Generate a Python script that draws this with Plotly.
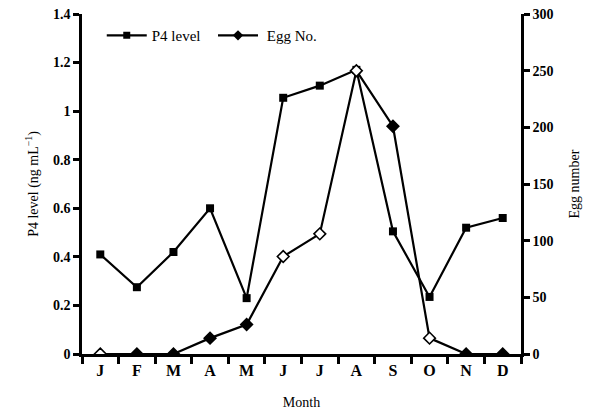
import plotly.graph_objects as go

months = ["J", "F", "M", "A", "M", "J", "J", "A", "S", "O", "N", "D"]
p4_level = [0.41, 0.275, 0.42, 0.60, 0.23, 1.055, 1.105, 1.17, 0.505, 0.235, 0.52, 0.56]
egg_no = [0, 0, 0, 14, 26, 86, 106, 250, 201, 14, 0, 0]
egg_hollow = [True, False, False, False, False, True, True, True, False, True, False, False]

x_idx = list(range(len(months)))
font_fam = "Liberation Serif"
NB = "\u00a0"

fig = go.Figure()
fig.add_trace(go.Scatter(
    x=x_idx, y=p4_level, name="P4 level", mode="lines+markers", showlegend=False,
    line=dict(color="black", width=2.2),
    marker=dict(symbol="square", size=8, color="black"),
    yaxis="y"))
fig.add_trace(go.Scatter(
    x=x_idx, y=egg_no, name="Egg No.", mode="lines+markers", showlegend=False,
    line=dict(color="black", width=2.2),
    marker=dict(symbol="diamond", size=9,
                color=["white" if h else "black" for h in egg_hollow],
                line=dict(color="black", width=1.6)),
    yaxis="y2"))
# legend entries
fig.add_trace(go.Scatter(x=[None], y=[None], name="P4 level" + NB * 2, mode="lines+markers",
                         line=dict(color="black", width=2.2),
                         marker=dict(symbol="square", size=7, color="black")))
fig.add_trace(go.Scatter(x=[None], y=[None], name=NB + "Egg No.", mode="lines+markers",
                         line=dict(color="black", width=2.2),
                         marker=dict(symbol="diamond", size=8, color="black")))

axis_common = dict(showline=True, linecolor="black", linewidth=2.5,
                   ticks="outside", ticklen=6, tickwidth=2.5, tickcolor="black",
                   showgrid=False, zeroline=False, automargin=False,
                   ticklabeloverflow="allow")

fig.update_layout(
    width=595, height=415,
    margin=dict(l=74, r=82, t=6, b=69),
    paper_bgcolor="white", plot_bgcolor="white",
    font=dict(family=font_fam, color="black", size=13),
    showlegend=True,
    legend=dict(orientation="h", x=0.045, y=0.985, xanchor="left", yanchor="top",
                font=dict(family=font_fam, size=15, color="black"),
                bgcolor="rgba(0,0,0,0)", itemwidth=40),
    xaxis=dict(axis_common, range=[-0.5, 11.5], tickmode="array",
               tickvals=x_idx, ticktext=["<b>%s</b>" % m for m in months],
               tickfont=dict(size=16, family=font_fam),
               title=dict(text="Month", font=dict(size=14, family=font_fam), standoff=20)),
    yaxis=dict(axis_common, range=[0, 1.4], dtick=0.2,
               tickfont=dict(size=14, family=font_fam),
               tickprefix="<b>", ticksuffix="</b>",
               title=dict(text="P4 level (ng mL<sup>−1</sup>)", font=dict(size=14, family=font_fam), standoff=12)),
    yaxis2=dict(axis_common, range=[0, 300], dtick=50, overlaying="y", side="right",
                tickfont=dict(size=14, family=font_fam),
                tickprefix="<b>", ticksuffix="</b>",
                title=dict(text="Egg number", font=dict(size=14, family=font_fam), standoff=17)),
)

# x-axis ticks at category boundaries via minor ticks
fig.update_xaxes(ticks="", minor=dict(tickmode="array", tickvals=[i - 0.5 for i in range(13)],
                                      ticks="outside", ticklen=7, tickwidth=2.5, tickcolor="black"))

fig.write_html("out.html")
